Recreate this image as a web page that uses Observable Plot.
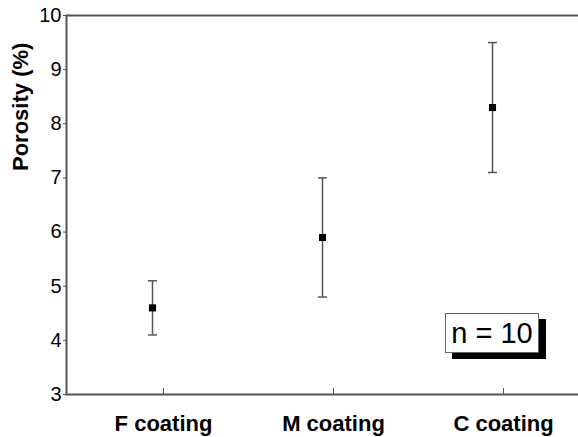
<!DOCTYPE html>
<html>
<head>
<meta charset="utf-8">
<script src="https://cdn.jsdelivr.net/npm/d3@7"></script>
<script src="https://cdn.jsdelivr.net/npm/@observablehq/plot@0.6"></script>
<style>
  html, body { margin: 0; padding: 0; background: #fff; overflow: hidden; }
  #chart { position: relative; width: 578px; height: 437px; font-family: "Liberation Sans", Arial, sans-serif; }
  #nbox {
    position: absolute; left: 445px; top: 313px; width: 92px; height: 38px;
    border: 1px solid #666; background: #fff; box-shadow: 7px 6px 0 #000;
    font-size: 29px; line-height: 38px; text-align: center; color: #000;
  }
</style>
</head>
<body>
<div id="chart"></div>
<script>
const categories = ["F coating", "M coating", "C coating"];
const means = [4.6, 5.9, 8.3];
const lows = [4.1, 4.8, 7.1];
const highs = [5.1, 7.0, 9.5];
const yTicks = [3, 4, 5, 6, 7, 8, 9, 10];
const yLabel = "Porosity (%)";
const nLabel = "n = 10";

const data = categories.map((c, i) => ({cat: c, mean: means[i], lo: lows[i], hi: highs[i]}));

const capSymbol = {
  draw(context, size) {
    const w = 4.5;
    context.moveTo(-w, 0);
    context.lineTo(w, 0);
  }
};

const axisColor = "#555";

const plot = Plot.plot({
  width: 578,
  height: 437,
  marginLeft: 66,
  marginRight: 0,
  marginTop: 15,
  marginBottom: 43,
  style: {background: "#fff", color: "#000", fontFamily: "'Liberation Sans', Arial, sans-serif", fontSize: "20px"},
  x: {type: "point", domain: categories, padding: 0.5},
  y: {domain: [3, 10]},
  marks: [
    Plot.ruleY([3, 10], {stroke: axisColor, strokeWidth: 2}),
    Plot.frame({anchor: "left", stroke: axisColor, strokeWidth: 2}),
    Plot.axisY({
      ticks: yTicks, tickFormat: "d", tickSize: 3, tickPadding: 2, fontSize: 20, stroke: axisColor,
      label: null
    }),
    Plot.axisX({
      tickSize: -6, tickPadding: 27, dx: 11, fontSize: 22, fontWeight: "bold", stroke: axisColor, label: null
    }),
    Plot.text([yLabel], {
      frameAnchor: "left", text: d => d, rotate: -90, dx: -46, dy: -34,
      fontSize: 22, fontWeight: "bold", fill: "#000"
    }),
    Plot.ruleX(data, {x: "cat", y1: "lo", y2: "hi", stroke: axisColor, strokeWidth: 1.5}),
    Plot.dot(data, {x: "cat", y: "lo", symbol: capSymbol, stroke: axisColor, strokeWidth: 1.5, r: 3}),
    Plot.dot(data, {x: "cat", y: "hi", symbol: capSymbol, stroke: axisColor, strokeWidth: 1.5, r: 3}),
    Plot.dot(data, {x: "cat", y: "mean", symbol: "square", fill: "#000", r: 4})
  ]
});

const chart = document.getElementById("chart");
chart.appendChild(plot);

const nbox = document.createElement("div");
nbox.id = "nbox";
nbox.textContent = nLabel;
chart.appendChild(nbox);
</script>
</body>
</html>
